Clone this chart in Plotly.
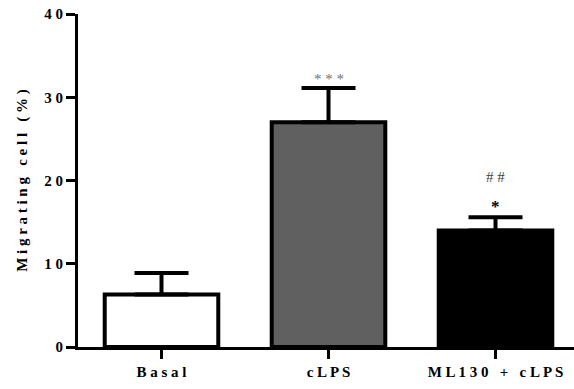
import plotly.graph_objects as go

categories = ["Basal", "cLPS", "ML130 + cLPS"]
means = [6.3, 27.0, 14.0]
sem = [2.6, 4.1, 1.6]
fills = ["#ffffff", "#606060", "#000000"]
sig_top = ["", "***", "*"]
sig_hash = ["", "", "##"]
y_ticks = [0, 10, 20, 30, 40]

def spaced(s, sep=" "):
    return sep.join(list(s))

FONT = "Liberation Serif, Times New Roman, serif"

fig = go.Figure()
fig.add_trace(go.Bar(
    x=categories, y=means,
    marker=dict(color=fills, line=dict(color="black", width=4)),
    width=0.68,
    error_y=dict(type="data", array=sem, arrayminus=[0, 0, 0], symmetric=False,
                 color="black", thickness=4, width=27),
    showlegend=False,
))

for c, m, e, s in zip(categories, means, sem, sig_top):
    if not s:
        continue
    if len(s) > 1:
        fig.add_annotation(x=c, y=m + e, text=spaced(s, " "),
                           showarrow=False, yanchor="middle", yshift=9,
                           font=dict(family=FONT, size=15, color="#707070"))
    else:
        fig.add_annotation(x=c, y=m + e, text="<b>" + s + "</b>",
                           showarrow=False, yanchor="middle", yshift=11,
                           font=dict(family=FONT, size=17, color="black"))
for c, m, e, s in zip(categories, means, sem, sig_hash):
    if s:
        fig.add_annotation(x=c, y=m + e, text=spaced(s, " "),
                           showarrow=False, yanchor="middle", yshift=40,
                           font=dict(family=FONT, size=15, color="#404040"))

fig.update_layout(
    width=574, height=389,
    margin=dict(l=78, r=0, t=14, b=42, autoexpand=False),
    plot_bgcolor="white", paper_bgcolor="white",
    font=dict(family=FONT, color="black"),
)
fig.update_xaxes(
    type="category", range=[-0.5, 2.47], automargin=False,
    showline=True, linecolor="black", linewidth=3,
    ticks="outside", ticklen=9, tickwidth=3, tickcolor="black",
    tickvals=categories, ticktext=["<b>" + spaced(c) + "</b>" for c in categories],
    tickfont=dict(family=FONT, size=15, color="black"),
    showgrid=False, zeroline=False,
)
fig.update_yaxes(
    range=[0, 40], automargin=False,
    showline=True, linecolor="black", linewidth=3,
    ticks="outside", ticklen=9, tickwidth=3, tickcolor="black",
    tickvals=y_ticks, ticktext=["<b>" + spaced(str(v)) + "</b>" for v in y_ticks],
    tickfont=dict(family=FONT, size=15, color="black"),
    showgrid=False, zeroline=False,
    title=dict(text="<b>" + spaced("Migrating cell (%)", " ") + "</b>",
               font=dict(family=FONT, size=15, color="black"), standoff=14),
)

fig.write_html("out.html", config={"displayModeBar": False},
               post_script="document.body.style.margin='0';")
